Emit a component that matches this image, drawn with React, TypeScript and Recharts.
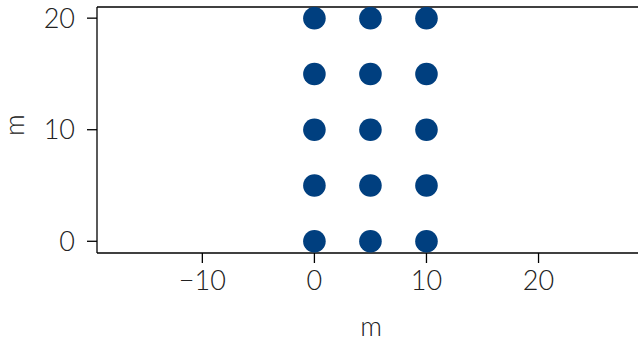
import React from 'react';
import {
  ScatterChart,
  Scatter,
  XAxis,
  YAxis,
  ReferenceLine,
} from 'recharts';

// grid of points: 3 columns x 5 rows
const xValues = [0, 5, 10];
const yValues = [0, 5, 10, 15, 20];
const xTicks = [-10, 0, 10, 20];
const yTicks = [0, 10, 20];
const xDomain = [-19.4, 29.5];
const yDomain = [-1.05, 21];

const points = xValues.flatMap((x) => yValues.map((y) => ({ x, y })));

const FONT = 'Lato, "Open Sans", sans-serif';
const tickStyle = { fontSize: 27, fontFamily: FONT, fontWeight: 300, fill: '#222' };

const Dot = (props: any) => <circle cx={props.cx} cy={props.cy} r={11.3} fill="#003f7f" />;

const App: React.FC = () => {
  return (
    <div style={{ position: 'absolute', top: 0, left: 0, width: 638, height: 341, overflow: 'hidden', background: '#fff' }}>
      <ScatterChart width={645} height={341} margin={{ top: 7, right: 0, bottom: 0, left: 0 }}>
        <XAxis
          type="number"
          dataKey="x"
          domain={xDomain}
          ticks={xTicks}
          allowDataOverflow
          height={88}
          stroke="#000"
          strokeWidth={1.3}
          tickSize={10}
          tickMargin={8}
          tick={tickStyle}
          tickFormatter={(v: number) => (v < 0 ? `\u2212${Math.abs(v)}` : `${v}`)}
          label={{ value: 'm', position: 'insideBottom', offset: 5, fill: '#222', style: tickStyle }}
        />
        <YAxis
          type="number"
          dataKey="y"
          domain={yDomain}
          ticks={yTicks}
          allowDataOverflow
          width={97}
          stroke="#000"
          strokeWidth={1.3}
          tickSize={10}
          tickMargin={12}
          tick={tickStyle}
          label={{ value: 'm', angle: -90, position: 'insideLeft', offset: 14, dy: 6, fill: '#222', style: tickStyle }}
        />
        <ReferenceLine y={yDomain[1]} stroke="#000" strokeWidth={1.3} />
        <Scatter data={points} shape={Dot} isAnimationActive={false} />
      </ScatterChart>
    </div>
  );
};

export default App;
